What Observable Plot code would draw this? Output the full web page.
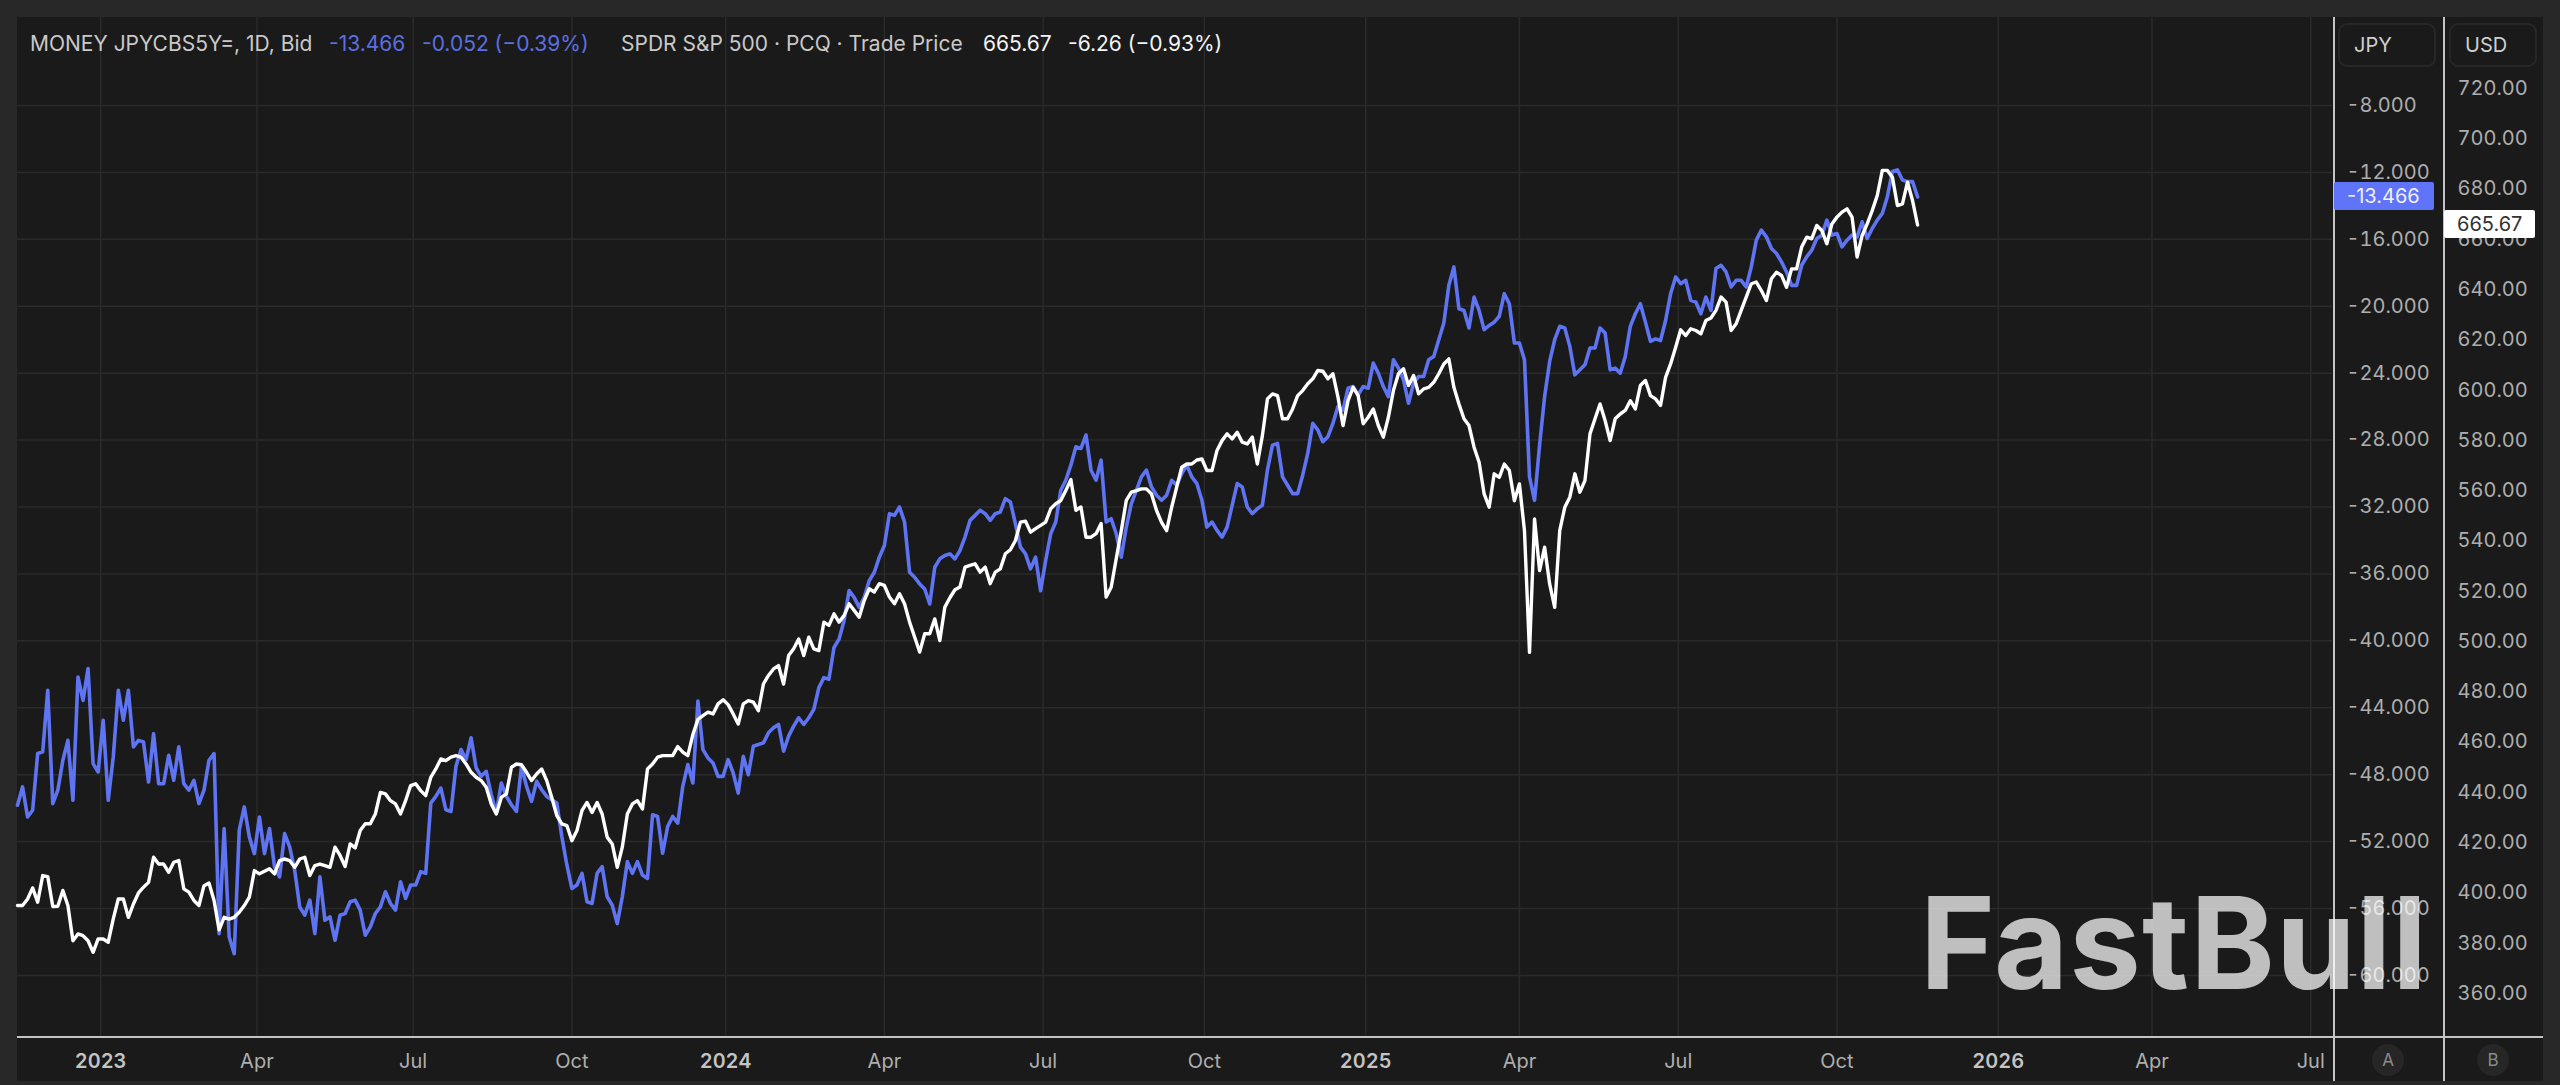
<!DOCTYPE html>
<html>
<head>
<meta charset="utf-8">
<script src="https://cdn.jsdelivr.net/npm/d3@7"></script>
<script src="https://cdn.jsdelivr.net/npm/@observablehq/plot@0.6"></script>
<style>
html,body{margin:0;padding:0;background:#282828;width:2560px;height:1085px;overflow:hidden;font-family:Inter,sans-serif}
#pane{position:absolute;left:17px;top:17px;width:2526px;height:1064px;background:#1a1a1a}
#chart{position:absolute;left:0;top:0}
#chart svg{display:block}
.abs{position:absolute;white-space:nowrap}
.lg{top:31px;font-size:21px;line-height:26px}
.rule{position:absolute;background:#c4c4c4}
.btn{position:absolute;box-sizing:border-box;border:2px solid #272727;border-radius:9px;color:#cfcfcf;font-size:20px;line-height:40px;top:23px;height:44px}
.tag{position:absolute;font-size:20px;line-height:28px;height:28px;border-radius:2px;box-sizing:border-box}
.cir{position:absolute;width:32px;height:32px;border-radius:50%;background:#262626;color:#8a8a8a;font-size:17px;line-height:32px;text-align:center;top:1044px}
</style>
</head>
<body>
<div id="pane"></div>
<div id="chart"></div>
<script>
// S&P 500 ETF (USD) read every second trading session
const spyPrice = [
395,395,397.6,402,396.3,406.9,406.5,394.6,394.7,401,
395,381,383.7,383,381,376.4,381.7,381.7,380.4,389.7,
397.6,397.6,390.3,395.6,400,402.3,404.2,414.2,411.5,411.5,
408.2,412.2,412.9,401.6,400.3,397,395,402.9,403.9,397,
385.3,390.3,389.6,390.3,392.3,395,398.3,408.9,407.6,408.6,
409.6,407.6,412.9,413.5,412.9,410.2,413.5,414.2,406.9,410.9,
411.5,410.9,410.2,418.2,414.9,410.5,419.5,417.9,424.8,427.5,
427.5,431.4,440,439.4,436.7,435.4,431.4,436.7,442.7,443.4,
440.7,438.7,446,449.3,453.3,452.6,454,454.6,454,451.3,
448,446,444.7,442,435.4,431.4,438,439.4,450,451.3,
451,448,444.7,447.3,449.3,444.7,438,430.8,427.5,426.8,
420.8,424.8,432.8,436,432,436,431.4,422.2,419.5,410.2,
418.2,431.4,435.4,436.7,433.4,449.3,451.3,454,454.6,454.6,
454.6,458.2,456,454.6,463,469,470.5,471.9,471.2,475.2,
476.8,474.9,471.2,467.2,475.2,476.5,475.9,472.5,483.1,486.5,
489.1,490.4,483.1,494.4,497.1,501,494.4,501.7,497.1,496.4,
507.7,506.4,511,507.7,510.3,515,512.4,509.7,516.3,521,
519.7,523,522.3,517.7,515,519,515,507.7,501.8,495.8,
503.1,503.1,509,500.4,513.7,517.4,520.6,521.7,529.6,530.3,
530.9,527.6,529.6,523,527.6,528.9,534.9,536.5,540.2,547.5,
547.9,543.5,544.9,546.2,547.5,552.8,554.8,556.1,560.1,564.4,
552.2,553.5,541.5,541.5,542.9,546.9,517.7,521.6,532.9,544,
556.1,559.4,560,560.7,560.7,558.7,552.1,547.4,544.1,553.4,
561.4,569.3,570.6,570.6,572.2,572.6,568,568,576,579.9,
582.6,580.6,583.2,579.3,578.6,581.3,570.6,581.9,596.5,598.5,
597.8,588.6,588.6,592.5,597.8,599.8,602.5,604.5,607.8,607.5,
604.5,606.5,597.2,585.9,595.8,601.1,597.8,586.6,589.2,592.5,
585.9,581.3,589.2,599.8,606.5,608.5,601.8,605.8,598.5,600.5,
601.1,603.1,606.5,610.4,612.4,601.1,594.5,588.6,585.9,577.3,
571.3,558.7,553.4,566.7,565.3,570.6,568,556,562.7,544.1,
495.7,548.8,528.2,537.5,522.9,513.6,544.1,553.4,557.4,566.7,
559.4,564,582.6,588.6,594.5,587.9,579.9,588.6,590.5,591.9,
595.8,592.5,601.8,603.8,597.8,596.5,593.9,605.1,610.4,617,
624,621.7,624.4,623.7,622.4,627.7,628.7,631.7,637,635,
623.7,626.4,631.7,637,642.3,643,639.6,635.6,644.3,646.9,
645.6,640.9,648.2,648.2,656.9,660.8,660.2,665.5,663.5,658.2,
666.1,668.8,670.8,672.1,668.8,652.9,661.5,666.1,671.4,677.4,
687.4,687.4,684.7,673.4,674.1,682.7,675.4,665.67];

// JPY 5Y basis swap read every second trading session
const jpyBasis = [
-49.83,-48.73,-50.53,-50.13,-46.74,-46.64,-42.96,-49.73,-48.93,-47.14,
-45.95,-49.53,-42.16,-43.56,-41.66,-47.34,-47.84,-44.75,-49.53,-46.94,
-42.96,-44.75,-42.96,-46.34,-45.95,-46.05,-48.44,-45.55,-48.54,-48.54,
-46.84,-48.34,-46.34,-48.54,-48.93,-48.34,-49.73,-48.93,-47.14,-46.74,
-57.5,-51.22,-57.7,-58.7,-51.32,-49.93,-51.72,-52.72,-50.53,-52.72,
-51.22,-53.52,-54.11,-51.52,-52.32,-53.72,-55.91,-56.4,-55.5,-57.5,
-54.11,-56.7,-56.5,-57.9,-56.4,-56.3,-55.6,-55.5,-56.1,-57.6,
-57.1,-56.3,-55.9,-55,-55.7,-56.1,-54.4,-55.4,-54.6,-54.6,
-53.8,-53.9,-49.7,-49.3,-48.8,-50.1,-50.2,-47.5,-46.5,-47.1,
-45.8,-47.6,-48.1,-47.8,-49.2,-50.3,-48.5,-49.3,-49.8,-50.2,
-47.5,-48.7,-49.6,-48.4,-48.9,-49.3,-49.5,-49.7,-51.7,-53.4,
-54.8,-54.6,-53.9,-55.6,-55.7,-53.9,-53.5,-55.3,-55.8,-56.9,
-55.3,-53.2,-53.9,-53.2,-54,-54.2,-50.4,-50.5,-52.7,-51.1,
-50.5,-50.9,-48.7,-47.4,-48.5,-43.6,-46.5,-47,-47.3,-48.1,
-48.1,-47.1,-47.9,-49.1,-46.9,-48,-46.3,-46.2,-46.1,-45.5,
-45.2,-45,-46.6,-45.7,-45.1,-44.6,-45,-44.6,-44.1,-42.8,
-42.2,-42.3,-40.4,-39.9,-38.8,-37,-37.4,-38,-37.4,-36.4,
-35.9,-35,-34.3,-32.4,-32.5,-32,-32.9,-35.9,-36.2,-36.6,
-36.9,-37.8,-35.6,-35.1,-34.9,-34.8,-35.1,-34.6,-33.8,-32.8,
-32.5,-32.2,-32.4,-32.8,-32.4,-32.3,-31.5,-31.7,-33,-34.4,
-34.8,-35.7,-35,-37,-35.2,-33.6,-32.9,-31,-30.4,-29.5,
-28.4,-28.5,-27.7,-29.8,-30.4,-29.2,-32.9,-32.7,-33.6,-35,
-33.2,-31.8,-31,-30.2,-29.8,-30.8,-31.3,-31.6,-31.3,-30.4,
-30.7,-30,-29.5,-30.2,-30.6,-31.6,-33.2,-32.9,-33.4,-33.8,
-33.2,-31.9,-30.6,-30.8,-32,-32.4,-32.1,-31.9,-29.8,-28.3,
-28.2,-30.2,-30.7,-31.2,-31.2,-30.1,-28.8,-27,-27.4,-28.1,
-27.8,-27,-26,-26.2,-24.9,-24.8,-25.3,-24.8,-24.9,-23.4,
-24,-24.8,-25.4,-23.2,-23.7,-24.4,-25.8,-24.6,-24.2,-24.2,
-23.2,-23,-22,-21,-18.75,-17.65,-20.15,-20.25,-21.3,-19.45,
-20.25,-21.4,-21.15,-20.95,-20.6,-19.25,-19.85,-22.2,-22.2,-23.2,
-30.2,-31.6,-28.3,-25.4,-23.3,-22,-21.2,-21.3,-22.4,-24.1,
-23.8,-23.5,-22.5,-22.5,-21.3,-21.6,-23.8,-23.7,-24,-23,
-21.2,-20.45,-19.85,-20.95,-22.1,-21.95,-22.05,-20.85,-19.25,-18.25,
-18.65,-18.45,-19.65,-19.75,-20.45,-19.45,-20.25,-17.75,-17.55,-17.95,
-18.85,-18.45,-18.45,-18.85,-17.65,-16.05,-15.45,-15.85,-16.55,-16.85,
-17.35,-17.95,-18.75,-18.75,-17.55,-17.05,-16.65,-15.95,-15.75,-14.85,
-15.75,-15.65,-16.45,-16.05,-15.75,-15.85,-14.95,-15.95,-15.35,-14.85,
-14.45,-13.45,-11.95,-11.85,-12.45,-12.55,-12.55,-13.466];

const sessionStep = 2;
const monthTicks = [95,157,220,344,407,471,596,659,722,847,910];
const monthLabels = ["Apr","Jul","Oct","Apr","Jul","Oct","Apr","Jul","Oct","Apr","Jul"];
const yearTicks = [33,281,535,786];
const yearLabels = ["2023","2024","2025","2026"];
const usdTicks = d3.range(360, 721, 20);
const jpyTicks = d3.range(-60, -7, 4);
const lastUsd = 665.67, lastJpy = -13.466;

const blue = "#5f74f2", gridColor = "#2a2a2a", axisText = "#aeaeae";

// the second (JPY) axis shares the pane: its values map linearly onto the USD scale
const jpyToUsd = d3.scaleLinear([-60, -8], [367.2, 713.2]);

const spySeries = spyPrice.map((v, i) => ({session: i * sessionStep, v}));
const jpySeries = jpyBasis.map((v, i) => ({session: i * sessionStep, v: jpyToUsd(v)}));

const chart = Plot.plot({
  width: 2560, height: 1085,
  marginLeft: 17, marginRight: 228, marginTop: 17, marginBottom: 49,
  style: {background: "transparent", fontFamily: "Inter, sans-serif", fontSize: "20px"},
  x: {type: "linear", domain: [0, 918.65]},
  y: {type: "linear", domain: [342.9, 748.2]},
  marks: [
    Plot.gridX([...monthTicks, ...yearTicks], {stroke: gridColor, strokeOpacity: 1, strokeWidth: 1.5}),
    Plot.gridY(jpyTicks.map(d => jpyToUsd(d)), {stroke: gridColor, strokeOpacity: 1, strokeWidth: 1.5}),
    Plot.line(jpySeries, {x: "session", y: "v", stroke: blue, strokeWidth: 3.6, strokeLinejoin: "round"}),
    Plot.line(spySeries, {x: "session", y: "v", stroke: "#ffffff", strokeWidth: 3.4, strokeLinejoin: "round"}),
    Plot.axisY(jpyTicks.map(d => jpyToUsd(d)), {
      anchor: "right", label: null, tickSize: 0, tickPadding: 14, fontSize: 20, fill: axisText,
      tickFormat: d => jpyToUsd.invert(d).toFixed(3)
    }),
    Plot.axisY(usdTicks, {
      anchor: "right", label: null, tickSize: 0, tickPadding: 125, fontSize: 20, fill: axisText,
      tickFormat: d => d.toFixed(2)
    }),
    Plot.axisX(monthTicks, {
      anchor: "bottom", label: null, tickSize: 0, tickPadding: 17, fontSize: 20, fill: axisText,
      tickFormat: d => monthLabels[monthTicks.indexOf(d)]
    }),
    Plot.axisX(yearTicks, {
      anchor: "bottom", label: null, tickSize: 0, tickPadding: 17, fontSize: 20, fontWeight: 600, fill: "#c4c4c4",
      tickFormat: d => yearLabels[yearTicks.indexOf(d)]
    })
  ]
});
document.getElementById("chart").append(chart);

function add(cls, css, text) {
  const el = document.createElement("div");
  el.className = cls;
  el.style.cssText = css;
  if (text) el.textContent = text;
  document.body.append(el);
  return el;
}

// pane chrome
add("rule", "left:17px;top:1036px;width:2526px;height:2px");
add("rule", "left:2333px;top:17px;width:2px;height:1064px");
add("rule", "left:2443px;top:17px;width:2px;height:1064px");

// header legend
const nameC = "#c9c9c9", blueC = "#5b6fe0", whiteC = "#f4f4f4";
[["MONEY JPYCBS5Y=, 1D, Bid", 30, nameC],
 ["-13.466", 329, blueC],
 ["-0.052 (−0.39%)", 422, blueC],
 ["SPDR S&P 500 · PCQ · Trade Price", 621, nameC],
 ["665.67", 983, whiteC],
 ["-6.26 (−0.93%)", 1068, whiteC]
].forEach(([t, l, c]) => add("abs lg", `left:${l}px;color:${c}`, t));

// unit buttons
add("btn", "left:2338px;width:98px;padding-left:14px", "JPY");
add("btn", "left:2449px;width:88px;padding-left:14px", "USD");

// last-value tags, placed through the chart's y scale
const yAt = chart.scale("y");
const yBlue = yAt.apply(jpyToUsd(lastJpy)), yWhite = yAt.apply(lastUsd);
add("tag", `left:2334px;width:100px;top:${yBlue - 14}px;background:#5f74f8;color:#f0f0f0;padding-left:13px`, lastJpy.toFixed(3));
add("tag", `left:2444px;width:91px;top:${yWhite - 14}px;background:#fff;color:#333;padding-left:13px`, lastUsd.toFixed(2));

// pane badges
add("cir", "left:2372px", "A");
add("cir", "left:2477px", "B");

// watermark
add("abs", "left:1920px;top:865px;font-size:128px;font-weight:700;line-height:155px;color:rgba(255,255,255,.72);letter-spacing:1px", "FastBull");
</script>
</body>
</html>
